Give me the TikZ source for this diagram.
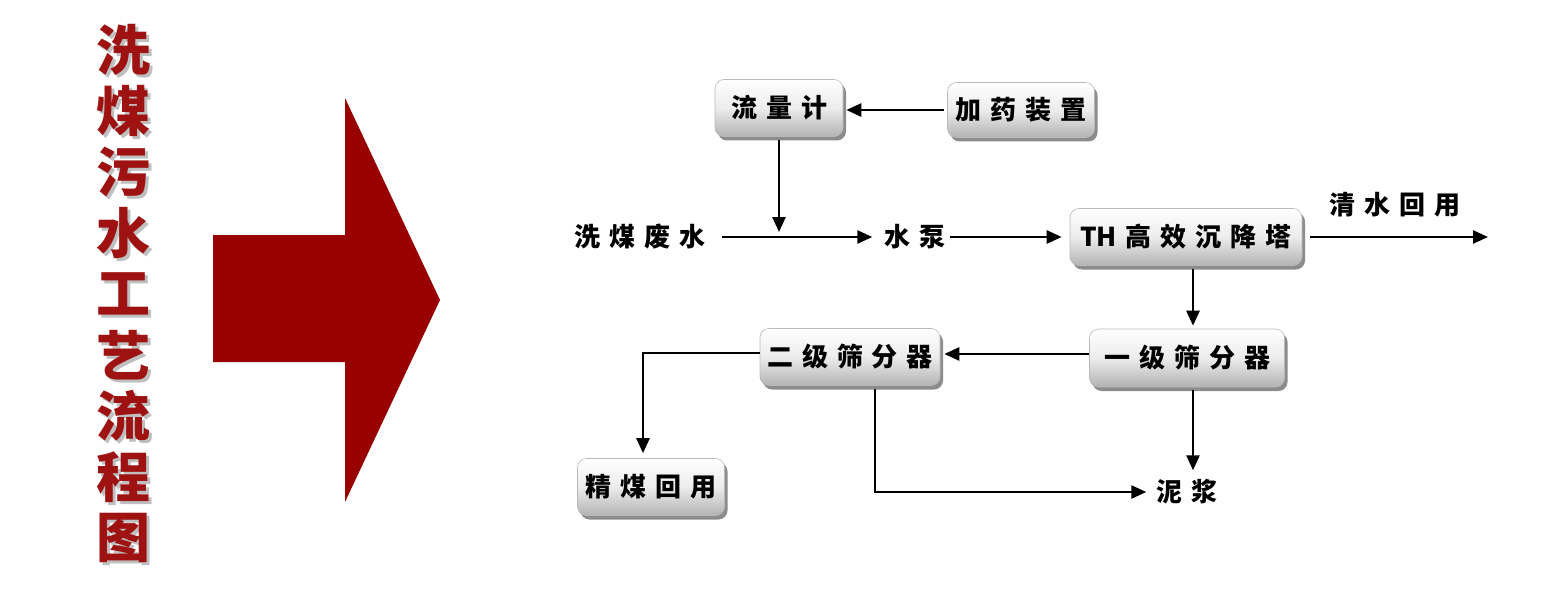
\documentclass[tikz,border=0pt]{standalone}
\usepackage{fontspec}
\newfontfamily\cjk{Noto Sans CJK SC}
\usetikzlibrary{arrows.meta,shadows}
\newcommand\gp{\hspace{9pt}}
\definecolor{darkred}{HTML}{990000}
\definecolor{titlered}{HTML}{9E1212}
\tikzset{
  box/.style={rounded corners=9pt, draw=gray!55, line width=0.6pt,
    top color=white, bottom color=gray!60, middle color=gray!15,
    drop shadow={shadow xshift=3pt, shadow yshift=-4pt, opacity=0.45, fill=black},
    inner sep=0pt, font=\cjk\bfseries\fontsize{26}{26}\selectfont},
  lbl/.style={inner sep=0pt, font=\cjk\bfseries\fontsize{26}{26}\selectfont},
  flow/.style={line width=2.6pt, -{Triangle[length=15pt,width=13pt]}},
  tch/.style={inner sep=0pt, font=\cjk\bfseries\fontsize{54}{54}\selectfont, text=titlered},
  tsh/.style={inner sep=0pt, font=\cjk\bfseries\fontsize{54}{54}\selectfont, text=black, opacity=0.25},
}
\begin{document}
\begin{tikzpicture}[x=1pt,y=-1pt]
\useasboundingbox (0,0) rectangle (1560,596);
\fill[white] (0,0) rectangle (1560,596);
% title
\foreach \c [count=\i] in {洗,煤,污,水,工,艺,流,程,图}{
  \node[tsh] at (126,{50+61*(\i-1)+3}) {\c};
  \node[tch] (t\i) at (123,{50+61*(\i-1)}) {\c};
}
% big arrow
\fill[darkred] (213,235) -- (345,235) -- (345,98) -- (440,300) -- (345,502) -- (345,362) -- (213,362) -- cycle;
% boxes
\node[box, minimum width=128pt, minimum height=57pt] (flm) at (779,108) {流\gp 量\gp 计};
\node[box, minimum width=147pt, minimum height=55pt] (jy) at (1021,110) {加\gp 药\gp 装\gp 置};
\node[box, minimum width=232pt, minimum height=57pt] (th) at (1186,237) {TH\gp 高\gp 效\gp 沉\gp 降\gp 塔};
\node[box, minimum width=195pt, minimum height=58pt] (s1) at (1187,358) {一\gp 级\gp 筛\gp 分\gp 器};
\node[box, minimum width=180pt, minimum height=57pt] (s2) at (850,357) {二\gp 级\gp 筛\gp 分\gp 器};
\node[box, minimum width=147pt, minimum height=57pt] (jm) at (651,487) {精\gp 煤\gp 回\gp 用};
% plain labels
\node[lbl] (fs) at (640,237) {洗\gp 煤\gp 废\gp 水};
\node[lbl] (sb) at (915,237) {水\gp 泵};
\node[lbl] (qs) at (1395,205) {清\gp 水\gp 回\gp 用};
\node[lbl] (nj) at (1187,492) {泥\gp 浆};
\coordinate (qsend) at (1488,237);
\coordinate (join) at (779,232);
\coordinate (thx) at (1193,0);
\coordinate (s2x) at (875,0);
% connectors
\draw[flow, shorten >=3pt] ([xshift=-3pt]jy.west) -- (jy.west -| flm.east);
\draw[flow] ([yshift=-3pt]flm.south) -- (join);
\draw[flow] ([xshift=16pt]fs.east) -- ([xshift=-12pt]sb.west);
\draw[flow] ([xshift=4pt]sb.east) -- ([xshift=-8pt]th.west);
\draw[flow] ([xshift=8pt]th.east) -- (qsend);
\draw[flow] ([yshift=-3pt]thx |- th.south) -- ([yshift=3pt]thx |- s1.north);
\draw[flow, shorten >=4pt] ([yshift=4pt]s1.west) -- ([yshift=4pt]s1.west -| s2.east);
\draw[flow] ([yshift=4pt]s2.west) -| ([xshift=-8pt,yshift=5pt]jm.north);
\draw[flow] ([yshift=-3pt]s2x |- s2.south) |- ([xshift=-10pt]nj.west);
\draw[flow] ([yshift=-3pt]thx |- s1.south) -- ([yshift=9pt]thx |- nj.north);
\end{tikzpicture}
\end{document}
